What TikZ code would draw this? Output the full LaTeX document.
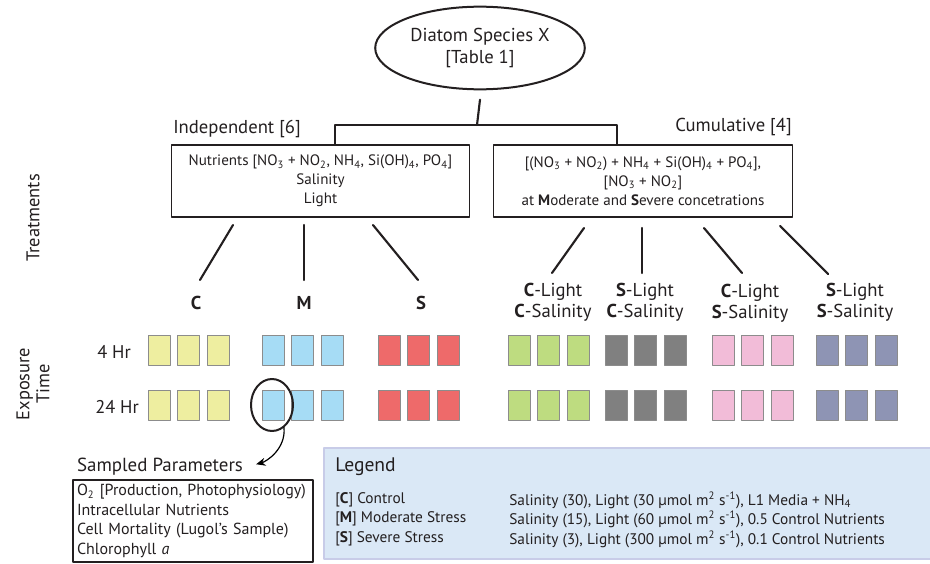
\documentclass[tikz,border=0pt]{standalone}
\usepackage{fontspec}
\setmainfont{PT Sans}
\usetikzlibrary{shapes.geometric,arrows.meta}

\definecolor{vyel}{RGB}{238,238,160}
\definecolor{vblu}{RGB}{166,220,245}
\definecolor{vred}{RGB}{238,106,106}
\definecolor{vgrn}{RGB}{190,220,128}
\definecolor{vdrk}{RGB}{128,128,128}
\definecolor{vpnk}{RGB}{242,188,216}
\definecolor{vbgr}{RGB}{142,148,180}
\definecolor{legfill}{RGB}{218,232,246}
\definecolor{legline}{RGB}{200,204,232}
\definecolor{ink}{RGB}{35,31,32}

\tikzset{
  fs/.style 2 args={font=\fontsize{#1}{#2}\selectfont},
  rootnode/.style={ellipse,draw=ink,line width=1.5pt,minimum width=124pt,minimum height=62pt,
    align=center,fs={14}{16}},
  treatbox/.style={draw=ink,line width=0.8pt,minimum width=224pt,minimum height=54pt,
    align=center,fs={11.3}{14.2}},
  header/.style={fs={14}{16}},
  tree/.style={draw=ink,line width=1.6pt},
  branch/.style={draw=ink,line width=1.6pt},
  level/.style={align=center,fs={14}{15.8}},
  axis/.style={fs={13.8}{15}},
  vial/.style={draw=black!45,line width=0.6pt,minimum width=16.5pt,minimum height=22.5pt,inner sep=0pt},
  legtext/.style={anchor=west,fs={11.5}{13},inner sep=0pt}
}
\newcommand{\sub}[1]{\textsubscript{#1}}

\begin{document}
\begin{tikzpicture}[line cap=round,line join=round,x=0.75pt,y=-0.75pt,text=ink]
\useasboundingbox (0,0) rectangle (930,563);

% top of the tree
\node[rootnode] (root) at (480,48) {Diatom Species X\\{[Table 1]}};
\node[treatbox] (indep) at (320.5,181) {Nutrients [NO\sub{3} + NO\sub{2}, NH\sub{4}, Si(OH)\sub{4}, PO\sub{4}]\\Salinity\\Light};
\node[treatbox] (cumul) at (643,181) {[(NO\sub{3} + NO\sub{2}) + NH\sub{4} + Si(OH)\sub{4} + PO\sub{4}],\\{[NO\sub{3} + NO\sub{2}]}\\at \textbf{M}oderate and \textbf{S}evere concetrations};
\node[header,anchor=south west,inner sep=0pt] (indeph) at (173,138) {Independent [6]};
\node[header,anchor=south east,inner sep=0pt] (cumulh) at (792,136) {Cumulative [4]};

\coordinate (split) at (477,125);
\draw[tree] ([yshift=-7pt]root.south) -- (split);
\draw[tree] (split) -| (indep.north -| 335,0);
\draw[tree] (split) -| (cumul.north -| 617,0);

% treatment labels
\node[level,font=\fontsize{14}{15.8}\selectfont\bfseries] (labC) at (196,303) {C};
\node[level,font=\fontsize{14}{15.8}\selectfont\bfseries] (labM) at (304,303) {M};
\node[level,font=\fontsize{14}{15.8}\selectfont\bfseries] (labS) at (421,303) {S};
\node[level] (labCC) at (553,302) {\textbf{C}-Light\\\textbf{C}-Salinity};
\node[level] (labSC) at (645,302) {\textbf{S}-Light\\\textbf{C}-Salinity};
\node[level] (labCS) at (750,303) {\textbf{C}-Light\\\textbf{S}-Salinity};
\node[level] (labSS) at (855,302) {\textbf{S}-Light\\\textbf{S}-Salinity};

\coordinate (tC) at (233,225); \coordinate (bC) at (200,280);
\coordinate (tM) at (304,225); \coordinate (bM) at (304,280);
\coordinate (tS) at (373,225); \coordinate (bS) at (418,280);
\coordinate (tCC) at (584,228); \coordinate (bCC) at (552,273);
\coordinate (tSC) at (642,228); \coordinate (bSC) at (642,273);
\coordinate (tCS) at (704,228); \coordinate (bCS) at (742,273);
\coordinate (tSS) at (780,226); \coordinate (bSS) at (828,274);
\foreach \n in {C,M,S,CC,SC,CS,SS}
  \draw[branch] (t\n) -- (b\n);

\node[axis,rotate=90] (treat) at (33,218) {Treatments};
\node[axis,rotate=90,align=center] (expo) at (33,384) {Exposure\\Time};
\node[axis,anchor=west,inner sep=0pt] (h4) at (97,352) {4 Hr};
\node[axis,anchor=west,inner sep=0pt] (h24) at (95,407) {24 Hr};

% replicate flasks
\foreach \gx/\col/\g in {159/vyel/c,273/vblu/m,389/vred/s,519/vgrn/cc,616/vdrk/sc,723/vpnk/cs,827/vbgr/ss}
  \foreach \r/\ry in {1/350,2/405}
    \foreach \k in {0,1,2}
      \node[vial,fill=\col] (\g-\r-\k) at (\gx+29.5*\k,\ry) {};

% sampling
\node[ellipse,draw=ink,line width=1.5pt,minimum width=31.5pt,minimum height=39pt] (pick) at (272,405) {};
\node[fs={14.2}{16},inner sep=2pt] (spt) at (160,467) {Sampled Parameters};
\draw[line width=0.9pt,-{Stealth[length=7pt,width=6pt]},shorten >=8pt] (pick.-62) to[out=-85,in=15] (spt.east);
\node[draw=ink,line width=0.8pt,minimum width=180pt,minimum height=61.5pt,text width=174pt,
  align=left,fs={12}{14.6},inner sep=3pt] (params) at (193,521)
  {O\sub{2} [Production, Photophysiology)\\Intracellular Nutrients\\Cell Mortality (Lugol’s Sample)\\Chlorophyll \textit{a}};

% legend
\path[fill=legfill,draw=legline,line width=1.2pt] (324,448) rectangle (940,559);
\node[anchor=west,fs={14.7}{16},inner sep=0pt] (leg) at (335,467) {Legend};
\node[legtext] (lgC) at (335,500) {[\textbf{C}] Control};
\node[legtext] (lgM) at (335,519) {[\textbf{M}] Moderate Stress};
\node[legtext] (lgS) at (335,539) {[\textbf{S}] Severe Stress};
\node[legtext] (ldC) at (509,500) {Salinity (30), Light (30 µmol m\textsuperscript{2} s\textsuperscript{-1}), L1 Media + NH\sub{4}};
\node[legtext] (ldM) at (509,519) {Salinity (15), Light (60 µmol m\textsuperscript{2} s\textsuperscript{-1}), 0.5 Control Nutrients};
\node[legtext] (ldS) at (509,539) {Salinity (3), Light (300 µmol m\textsuperscript{2} s\textsuperscript{-1}), 0.1 Control Nutrients};
\end{tikzpicture}
\end{document}
